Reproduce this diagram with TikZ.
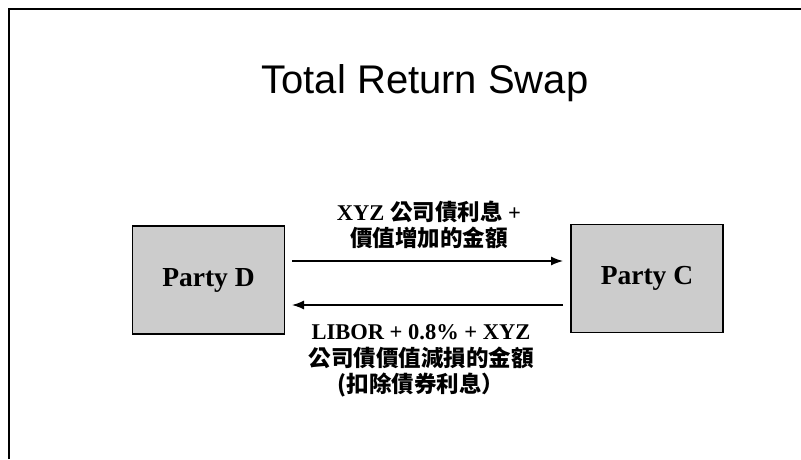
\documentclass[tikz,border=0pt]{standalone}
\usepackage{fontspec}
\setmainfont{Liberation Serif}
\newfontfamily\titlefont{Liberation Sans}
\newfontfamily\cjk{Noto Sans CJK TC}
\usetikzlibrary{arrows.meta}
\begin{document}
\begin{tikzpicture}[x=1pt,y=-1pt,
  party/.style={draw=black,line width=1.2pt,fill=black!20,minimum width=152pt,minimum height=108pt,inner sep=0pt,font=\fontsize{27.5}{30}\selectfont\bfseries},
  flow/.style={line width=1.3pt,-{Latex[length=12pt,width=9pt]}},
  lbl/.style={align=center,font=\fontsize{22.5}{26.5}\selectfont\bfseries}]
\useasboundingbox (0,0) rectangle (801,459);
\fill[white] (0,0) rectangle (801,459);
\draw[line width=2.5pt] (9,459) -- (9,9) -- (801,9);
\node[anchor=base] (title) at (425,93) {\titlefont\fontsize{40}{44}\selectfont Total Return Swap};
\node[party] (D) at (208.5,280) {Party D};
\node[party] (C) at (647,278.5) {Party C};
\coordinate (a1) at (292,261);
\coordinate (a2) at (563,261);
\coordinate (b1) at (563,305);
\coordinate (b2) at (292,305);
\draw[flow] (a1) -- (a2);
\draw[flow] (b1) -- (b2);
\node[lbl] (up) at (429,225) {XYZ {\cjk 公司債利息} +\\{\cjk 價值增加的金額}};
\node[lbl] (down) at (421,361) {LIBOR + 0.8\% + XYZ\\{\cjk 公司債價值減損的金額}\\{\cjk (扣除債券利息）}};
\end{tikzpicture}
\end{document}
